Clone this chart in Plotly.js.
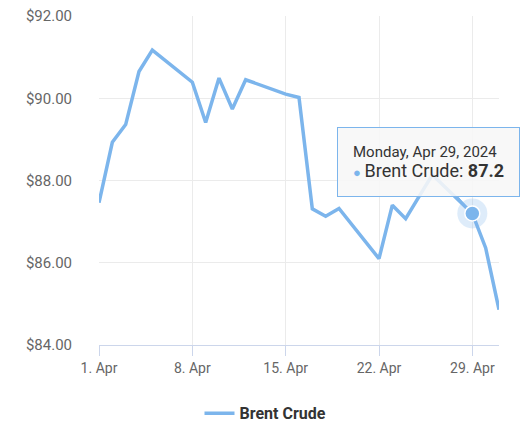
<!DOCTYPE html>
<html>
<head>
<meta charset="utf-8">
<script src="https://cdn.plot.ly/plotly-3.0.1.min.js"></script>
<style>
  html, body { margin: 0; padding: 0; background: #fff; }
  #chart { width: 531px; height: 435px; }
</style>
</head>
<body>
<div id="chart"></div>
<script>
// Brent crude closing prices, April 2024 (trading days)
const dates = [
    '2024-04-01', '2024-04-02', '2024-04-03', '2024-04-04', '2024-04-05',
    '2024-04-08', '2024-04-09', '2024-04-10', '2024-04-11', '2024-04-12',
    '2024-04-15', '2024-04-16', '2024-04-17', '2024-04-18', '2024-04-19',
    '2024-04-22', '2024-04-23', '2024-04-24', '2024-04-25', '2024-04-26',
    '2024-04-29', '2024-04-30', '2024-05-01'
];
const prices = [
    87.46, 88.93, 89.36, 90.65, 91.17,
    90.39, 89.41, 90.49, 89.74, 90.45,
    90.10, 90.02, 87.31, 87.13, 87.32,
    86.10, 87.40, 87.07, 87.61, 88.14,
    87.20, 86.36, 84.86
];
const seriesName = 'Brent Crude';
const hoverIndex = 20;

const lineColor = '#7cb5ec';

// tooltip date like "Monday, Apr 29, 2024"
function formatDate(s) {
    const days = ['Sunday', 'Monday', 'Tuesday', 'Wednesday', 'Thursday', 'Friday', 'Saturday'];
    const months = ['Jan', 'Feb', 'Mar', 'Apr', 'May', 'Jun', 'Jul', 'Aug', 'Sep', 'Oct', 'Nov', 'Dec'];
    const [y, m, d] = s.split('-').map(Number);
    const dt = new Date(Date.UTC(y, m - 1, d));
    return days[dt.getUTCDay()] + ', ' + months[m - 1] + ' ' + d + ', ' + y;
}

const traces = [
    {
        x: dates,
        y: prices,
        mode: 'lines',
        name: seriesName,
        line: { color: lineColor, width: 3.5 },
        hoverinfo: 'skip'
    },
    {
        // hover halo
        x: [dates[hoverIndex]],
        y: [prices[hoverIndex]],
        mode: 'markers',
        showlegend: false,
        hoverinfo: 'skip',
        marker: { size: 30, color: 'rgba(124,181,236,0.25)' }
    },
    {
        x: [dates[hoverIndex]],
        y: [prices[hoverIndex]],
        mode: 'markers',
        showlegend: false,
        hoverinfo: 'skip',
        marker: { size: 15, color: lineColor, line: { color: '#ffffff', width: 1.5 } }
    }
];

const layout = {
    width: 531,
    height: 435,
    paper_bgcolor: '#ffffff',
    plot_bgcolor: '#ffffff',
    font: { family: 'Roboto, sans-serif', color: '#666666', size: 14 },
    margin: { l: 99, r: 32, t: 16, b: 90, autoexpand: false },
    xaxis: {
        type: 'date',
        range: ['2024-04-01', '2024-05-01'],
        tick0: '2024-04-01',
        dtick: 7 * 24 * 3600 * 1000,
        tickformat: '%-d. %b',
        showgrid: true,
        gridcolor: '#ebebeb',
        gridwidth: 1,
        zeroline: false,
        showline: true,
        linecolor: '#ccd6eb',
        linewidth: 1,
        ticks: 'outside',
        ticklen: 10,
        tickcolor: '#ccd6eb',
        tickfont: { size: 14, color: '#666666' },
        fixedrange: true
    },
    yaxis: {
        range: [84, 92],
        dtick: 2,
        tick0: 84,
        tickprefix: '$',
        tickformat: '.2f',
        showgrid: true,
        gridcolor: '#ebebeb',
        gridwidth: 1,
        zeroline: false,
        showline: false,
        ticks: '',
        ticklabelstandoff: 26,
        tickfont: { size: 15, color: '#666666' },
        fixedrange: true
    },
    showlegend: true,
    legend: {
        orientation: 'h',
        xref: 'container',
        yref: 'container',
        x: 0.5,
        xanchor: 'center',
        y: 0.05,
        yanchor: 'middle',
        font: { size: 16, color: '#333333', weight: 'bold' }
    },
    annotations: [
        {
            x: dates[hoverIndex],
            y: prices[hoverIndex],
            xref: 'x',
            yref: 'y',
            text: '<span style="font-size:15px">' + formatDate(dates[hoverIndex]) + '</span><br>' +
                  '<span style="color:' + lineColor + ';font-size:13px">●</span> ' +
                  '<span style="font-size:18px">' + seriesName + ': <b>' + prices[hoverIndex].toFixed(1) + '</b></span>',
            align: 'left',
            showarrow: true,
            arrowhead: 0,
            arrowwidth: 1,
            arrowcolor: lineColor,
            ax: -44,
            ay: -51,
            standoff: 10,
            bgcolor: 'rgba(247,247,247,0.88)',
            bordercolor: lineColor,
            borderwidth: 1,
            borderpad: 15,
            font: { family: 'Roboto, sans-serif', color: '#333333', size: 15 }
        }
    ]
};

const config = { responsive: false, displayModeBar: false, staticPlot: true };

Plotly.newPlot('chart', traces, layout, config);
</script>
</body>
</html>
